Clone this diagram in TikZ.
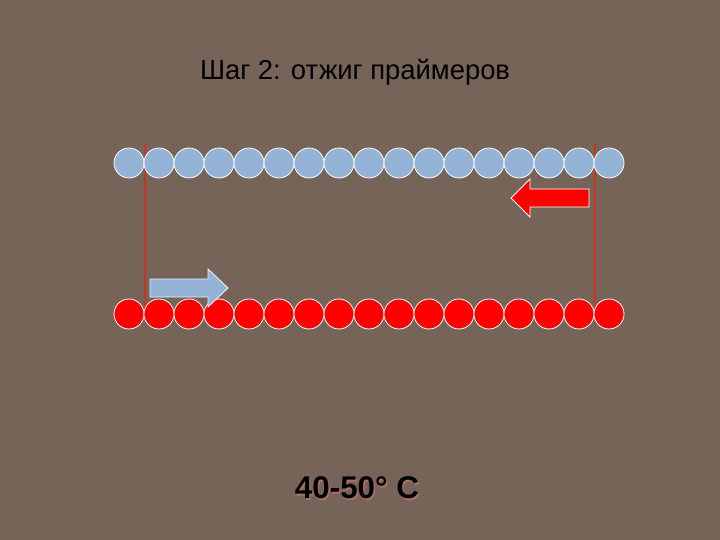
\documentclass[tikz,border=0pt]{standalone}
\usepackage{fontspec}
\setmainfont{Liberation Sans}
\definecolor{bg}{RGB}{118,100,89}
\definecolor{lblue}{RGB}{149,179,215}
\definecolor{vline}{RGB}{205,50,35}
\begin{document}
\begin{tikzpicture}[x=1bp,y=-1bp,
  bead/.style={circle,draw=white,line width=0.8bp,inner sep=0pt,minimum size=30bp},
  bluebead/.style={bead,fill=lblue},
  redbead/.style={bead,fill=red},
  marker/.style={draw=vline,line width=1.2bp},
  primer/.style={line width=0.9bp,line join=miter}]
\fill[bg] (0,0) rectangle (720,540);
\useasboundingbox (0,0) rectangle (720,540);
% vertical marker lines (behind beads)
\coordinate (l1) at (145,143);
\coordinate (l2) at (145,312);
\coordinate (r1) at (595,143);
\coordinate (r2) at (595,312);
\draw[marker] (l1) -- (l2);
\draw[marker] (r1) -- (r2);
% beads
\foreach \i in {0,...,16}{
  \node[bluebead] (t\i) at (129+30*\i,163) {};
  \node[redbead] (b\i) at (129+30*\i,314) {};
}
% primer arrows
\draw[primer,draw=white!80!lblue,fill=lblue] (150,279) -- (208,279) -- (208,269) -- (228,288)
  -- (208,307) -- (208,297) -- (150,297) -- cycle;
\draw[primer,draw=white,fill=red] (589,189) -- (530,189) -- (530,179) -- (511,198)
  -- (530,217) -- (530,207) -- (589,207) -- cycle;
% texts
\node (title) at (355,72) {\fontsize{27.5}{32}\selectfont Шаг 2: отжиг праймеров};
\node[text=bg!75!red!80!white] (tempsh) at (358.3,489.3) {\fontsize{31.5}{37}\selectfont\bfseries 40-50° C};
\node (temp) at (357,488) {\fontsize{31.5}{37}\selectfont\bfseries 40-50° C};
\end{tikzpicture}
\end{document}
